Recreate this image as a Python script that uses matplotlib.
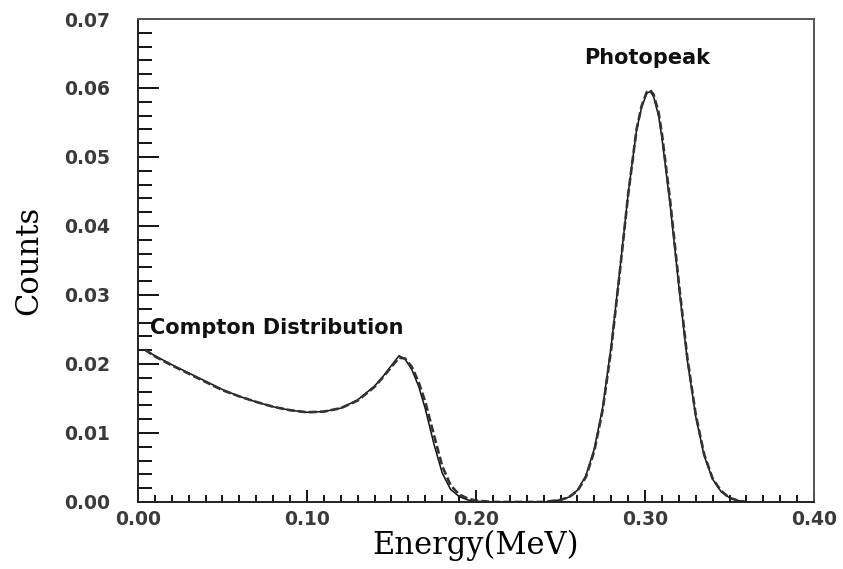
import matplotlib
matplotlib.use("Agg")
import matplotlib.pyplot as plt
from matplotlib.ticker import MultipleLocator, FormatStrFormatter

# Energy (MeV) sample points
energy = [0.004, 0.010, 0.020, 0.030, 0.040, 0.050, 0.060, 0.070, 0.080, 0.090,
          0.100, 0.110, 0.120, 0.130, 0.140, 0.145, 0.150, 0.1545, 0.158, 0.162,
          0.166, 0.170, 0.175, 0.180, 0.185, 0.190, 0.195, 0.200, 0.210, 0.220,
          0.230, 0.240, 0.250, 0.255, 0.260, 0.265, 0.270, 0.275, 0.280, 0.285,
          0.290, 0.295, 0.298, 0.301, 0.303, 0.305, 0.308, 0.310, 0.315, 0.320,
          0.325, 0.330, 0.335, 0.340, 0.345, 0.350, 0.355, 0.360]

# Simulated spectrum (solid)
counts_sim = [0.0220, 0.0212, 0.0199, 0.0187, 0.0175, 0.0163, 0.0153, 0.0145, 0.0138, 0.0133,
              0.0130, 0.0131, 0.0136, 0.0148, 0.0168, 0.0182, 0.0198, 0.0212, 0.0207, 0.0192,
              0.0168, 0.0135, 0.0085, 0.0042, 0.0018, 0.0008, 0.0003, 0.0001, 0.0000, 0.0000,
              0.0000, 0.0000, 0.0003, 0.0007, 0.0017, 0.0038, 0.0077, 0.0138, 0.0226, 0.0334,
              0.0446, 0.0539, 0.0572, 0.0592, 0.0595, 0.0588, 0.0560, 0.0528, 0.0428, 0.0313,
              0.0206, 0.0124, 0.0067, 0.0033, 0.0015, 0.0006, 0.0002, 0.0000]

# Measured spectrum (dashed)
counts_meas = [0.0221, 0.0211, 0.0198, 0.0186, 0.0174, 0.0162, 0.0153, 0.0145, 0.0138, 0.0133,
               0.0130, 0.0131, 0.0136, 0.0147, 0.0167, 0.0181, 0.0196, 0.0209, 0.0208, 0.0196,
               0.0174, 0.0145, 0.0098, 0.0052, 0.0024, 0.0011, 0.0005, 0.0002, 0.0000, 0.0000,
               0.0000, 0.0000, 0.0003, 0.0007, 0.0016, 0.0036, 0.0074, 0.0134, 0.0222, 0.0331,
               0.0445, 0.0540, 0.0574, 0.0594, 0.0597, 0.0591, 0.0565, 0.0534, 0.0434, 0.0318,
               0.0210, 0.0127, 0.0069, 0.0034, 0.0016, 0.0006, 0.0002, 0.0000]

x_ticks = [0.00, 0.10, 0.20, 0.30, 0.40]
y_ticks = [0.00, 0.01, 0.02, 0.03, 0.04, 0.05, 0.06, 0.07]

fig = plt.figure(figsize=(8.43, 5.69), dpi=100)
ax = fig.add_axes([0.1637, 0.1178, 0.8019, 0.8488])

ax.plot(energy, counts_sim, color="#111111", lw=1.1)
ax.plot(energy, counts_meas, color="#333333", lw=1.9, ls=(0, (3, 1.2)))

ax.set_xlim(0.0, 0.40)
ax.set_ylim(0.0, 0.07)
ax.set_xticks(x_ticks)
ax.set_yticks(y_ticks)
ax.xaxis.set_minor_locator(MultipleLocator(0.01))
ax.yaxis.set_minor_locator(MultipleLocator(0.002))
ax.xaxis.set_major_formatter(FormatStrFormatter("%.2f"))
ax.yaxis.set_major_formatter(FormatStrFormatter("%.2f"))

ax.tick_params(axis="x", which="major", direction="in", length=9, width=1.3,
               pad=6, labelsize=13.5, labelcolor="#3a3a3a", top=False)
ax.tick_params(axis="x", which="minor", direction="in", length=5, width=1.3, top=False)
ax.tick_params(axis="y", which="major", direction="in", length=15, width=1.3,
               pad=20, labelsize=13.5, labelcolor="#3a3a3a", right=False)
ax.tick_params(axis="y", which="minor", direction="in", length=10, width=1.3, right=False)
for lbl in ax.get_xticklabels() + ax.get_yticklabels():
    lbl.set_fontweight("bold")

for s in ax.spines.values():
    s.set_linewidth(1.4)
    s.set_color("#222222")
ax.spines["top"].set_color("#555555")
ax.spines["right"].set_color("#555555")

ax.set_xlabel("Energy(MeV)", family="DejaVu Serif", fontsize=22, labelpad=0)
ax.set_ylabel("Counts", family="DejaVu Serif", fontsize=22, labelpad=14)

ax.text(0.007, 0.0252, "Compton Distribution", fontsize=15, fontweight="bold",
        color="#111111", ha="left", va="center")
ax.text(0.301, 0.0643, "Photopeak", fontsize=15, fontweight="bold",
        color="#111111", ha="center", va="center")

fig.savefig("out.png", dpi=100)
